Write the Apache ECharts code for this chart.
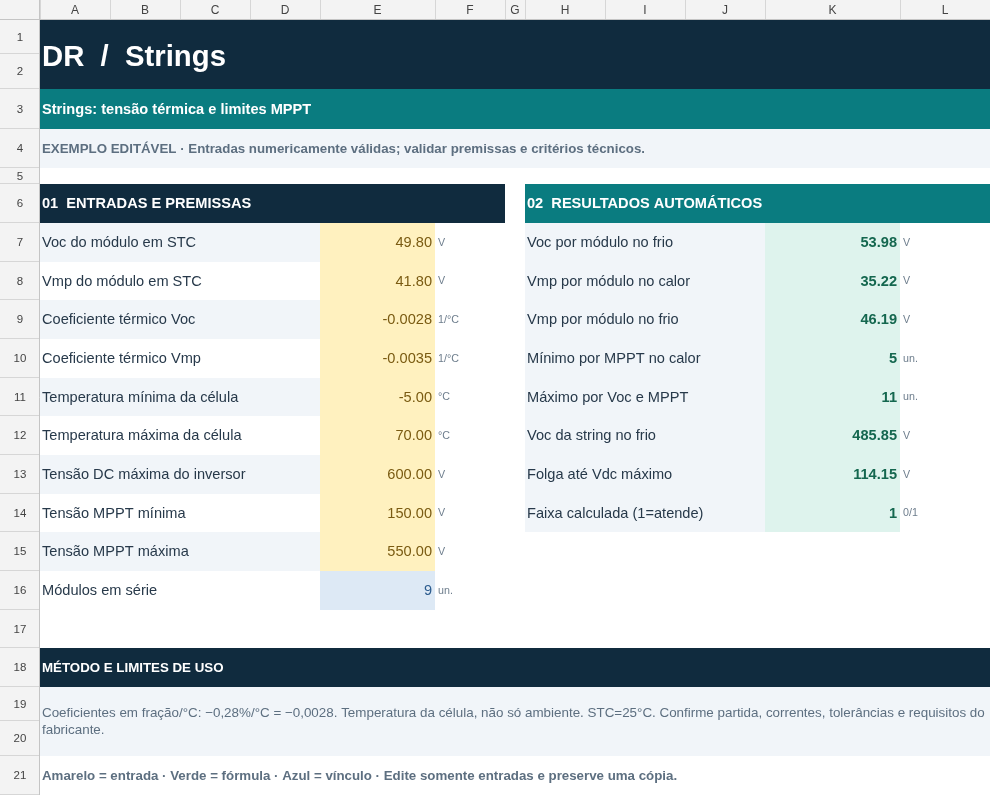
<!DOCTYPE html>
<html>
<head>
<meta charset="utf-8">
<script src="https://cdn.jsdelivr.net/npm/echarts@6/dist/echarts.min.js"></script>
<style>
html,body{margin:0;padding:0;background:#fff;}
#c{width:990px;height:795px;}
</style>
</head>
<body>
<div id="c"></div>
<script>
// ---- data ----
const columnLetters = ['A','B','C','D','E','F','G','H','I','J','K','L'];
const rowNumbers = [1,2,3,4,5,6,7,8,9,10,11,12,13,14,15,16,17,18,19,20,21];
const titleText = 'DR  /  Strings';
const subtitleText = 'Strings: tensão térmica e limites MPPT';
const noticeText = 'EXEMPLO EDITÁVEL · Entradas numericamente válidas; validar premissas e critérios técnicos.';
const inputHeader = '01  ENTRADAS E PREMISSAS';
const resultHeader = '02  RESULTADOS AUTOMÁTICOS';
const inputLabels = ['Voc do módulo em STC','Vmp do módulo em STC','Coeficiente térmico Voc','Coeficiente térmico Vmp','Temperatura mínima da célula','Temperatura máxima da célula','Tensão DC máxima do inversor','Tensão MPPT mínima','Tensão MPPT máxima','Módulos em série'];
const inputValues = [49.8, 41.8, -0.0028, -0.0035, -5, 70, 600, 150, 550, 9];
const inputDecimals = [2, 2, 4, 4, 2, 2, 2, 2, 2, 0];
const inputUnits = ['V','V','1/°C','1/°C','°C','°C','V','V','V','un.'];
const inputKinds = ['in','in','in','in','in','in','in','in','in','link'];
const resultLabels = ['Voc por módulo no frio','Vmp por módulo no calor','Vmp por módulo no frio','Mínimo por MPPT no calor','Máximo por Voc e MPPT','Voc da string no frio','Folga até Vdc máximo','Faixa calculada (1=atende)'];
const resultValues = [53.98, 35.22, 46.19, 5, 11, 485.85, 114.15, 1];
const resultDecimals = [2, 2, 2, 0, 0, 2, 2, 0];
const resultUnits = ['V','V','V','un.','un.','V','V','0/1'];
const methodHeader = 'MÉTODO E LIMITES DE USO';
const methodLines = ['Coeficientes em fração/°C: −0,28%/°C = −0,0028. Temperatura da célula, não só ambiente. STC=25°C. Confirme partida, correntes, tolerâncias e requisitos do', 'fabricante.'];
const legendText = 'Amarelo = entrada · Verde = fórmula · Azul = vínculo · Edite somente entradas e preserve uma cópia.';

// ---- layout (sheet geometry) ----
const colEdges = [0,40,110,180,250,320,435,505,525,605,685,765,900,990];
const rowEdges = [0,20,54,89,129,168,184,223,262,300,339,378,416,455,494,532,571,610,648,687,721,756,795];
const FONT = 'Liberation Sans, Arial, Helvetica, sans-serif';
const C = {
  navy:'#102b3e', teal:'#0a7c80', pale:'#f1f5f9', yellow:'#fff1bf', blue:'#dde9f5', mint:'#def3ed',
  text:'#27394a', muted:'#5d6f80', unit:'#6e7e8d', inVal:'#7a5b12', linkVal:'#2c5c8e', resVal:'#14674f',
  hdrBg:'#f3f3f3', hdrLine:'#d6d6d6', hdrText:'#444'
};
const X = c => colEdges[c];          // c: 1 = column A
const Y = r => rowEdges[r];          // r: 1 = row 1
const els = [];
function rect(c0, c1, r0, r1, fill){
  els.push({type:'rect', shape:{x:X(c0), y:Y(r0), width:X(c1+1)-X(c0), height:Y(r1+1)-Y(r0)}, style:{fill}, silent:true});
}
function text(str, x, y, o){
  els.push({type:'text', silent:true, style:Object.assign({text:str, x, y, fill:C.text, fontSize:14.6, fontFamily:FONT, fontWeight:'normal', align:'left', verticalAlign:'middle'}, o||{})});
}
const midY = (r0, r1) => (Y(r0) + Y((r1||r0)+1)) / 2 + 0.5;

// headers
els.push({type:'rect', shape:{x:0,y:0,width:990,height:20}, style:{fill:C.hdrBg}, silent:true});
els.push({type:'rect', shape:{x:0,y:0,width:40,height:795}, style:{fill:C.hdrBg}, silent:true});
columnLetters.forEach((L,i)=>{
  const c = i+1;
  text(L, (X(c)+X(c+1))/2, 10.5, {align:'center', fontSize:12, fill:C.hdrText});
  els.push({type:'line', shape:{x1:X(c)+0.5,y1:0,x2:X(c)+0.5,y2:20}, style:{stroke:C.hdrLine,lineWidth:1}, silent:true});
});
rowNumbers.forEach((n,i)=>{
  const r = i+1;
  text(String(n), 20, midY(r), {align:'center', fontSize:11.5, fill:C.hdrText});
  els.push({type:'line', shape:{x1:0,y1:Y(r+1)-0.5,x2:40,y2:Y(r+1)-0.5}, style:{stroke:C.hdrLine,lineWidth:1}, silent:true});
});
els.push({type:'line', shape:{x1:0,y1:19.5,x2:990,y2:19.5}, style:{stroke:'#c4c4c4',lineWidth:1}, silent:true});
els.push({type:'line', shape:{x1:39.5,y1:0,x2:39.5,y2:795}, style:{stroke:'#c4c4c4',lineWidth:1}, silent:true});

// title block
rect(1,12,1,2,C.navy);
text(titleText, 42, midY(1,2)+2.5, {fill:'#fff', fontSize:29.3, fontWeight:'bold'});
rect(1,12,3,3,C.teal);
text(subtitleText, 42, midY(3), {fill:'#fff', fontWeight:'bold'});
rect(1,12,4,4,C.pale);
text(noticeText, 42, midY(4), {fill:C.muted, fontWeight:'bold', fontSize:13.3});

// section headers
rect(1,6,6,6,C.navy);
text(inputHeader, 42, midY(6), {fill:'#fff', fontWeight:'bold'});
rect(8,12,6,6,C.teal);
text(resultHeader, 527, midY(6), {fill:'#fff', fontWeight:'bold'});

// inputs
inputLabels.forEach((lab,i)=>{
  const r = 7+i;
  if (i % 2 === 0) rect(1,4,r,r,C.pale);
  const link = inputKinds[i] === 'link';
  rect(5,5,r,r, link ? C.blue : C.yellow);
  text(lab, 42, midY(r));
  text(inputValues[i].toFixed(inputDecimals[i]), X(6)-3, midY(r), {align:'right', fill: link ? C.linkVal : C.inVal});
  text(inputUnits[i], X(6)+3, midY(r), {fontSize:10.7, fill:C.unit});
});

// results
resultLabels.forEach((lab,i)=>{
  const r = 7+i;
  rect(8,10,r,r,C.pale);
  rect(11,11,r,r,C.mint);
  text(lab, 527, midY(r));
  text(resultValues[i].toFixed(resultDecimals[i]), X(12)-3, midY(r), {align:'right', fill:C.resVal, fontWeight:'bold'});
  text(resultUnits[i], X(12)+3, midY(r), {fontSize:10.7, fill:C.unit});
});

// method
rect(1,12,18,18,C.navy);
text(methodHeader, 42, midY(18), {fill:'#fff', fontWeight:'bold', fontSize:13.3});
rect(1,12,19,20,C.pale);
const mY = midY(19,20);
text(methodLines[0], 42, mY-8.5, {fill:C.muted, fontSize:13.4});
text(methodLines[1], 42, mY+8.5, {fill:C.muted, fontSize:13.4});
text(legendText, 42, midY(21), {fill:C.muted, fontWeight:'bold', fontSize:13.3});

const chart = echarts.init(document.getElementById('c'), null, {renderer:'canvas'});
chart.setOption({animation:false, backgroundColor:'#fff', graphic:{elements:els}});
</script>
</body>
</html>
